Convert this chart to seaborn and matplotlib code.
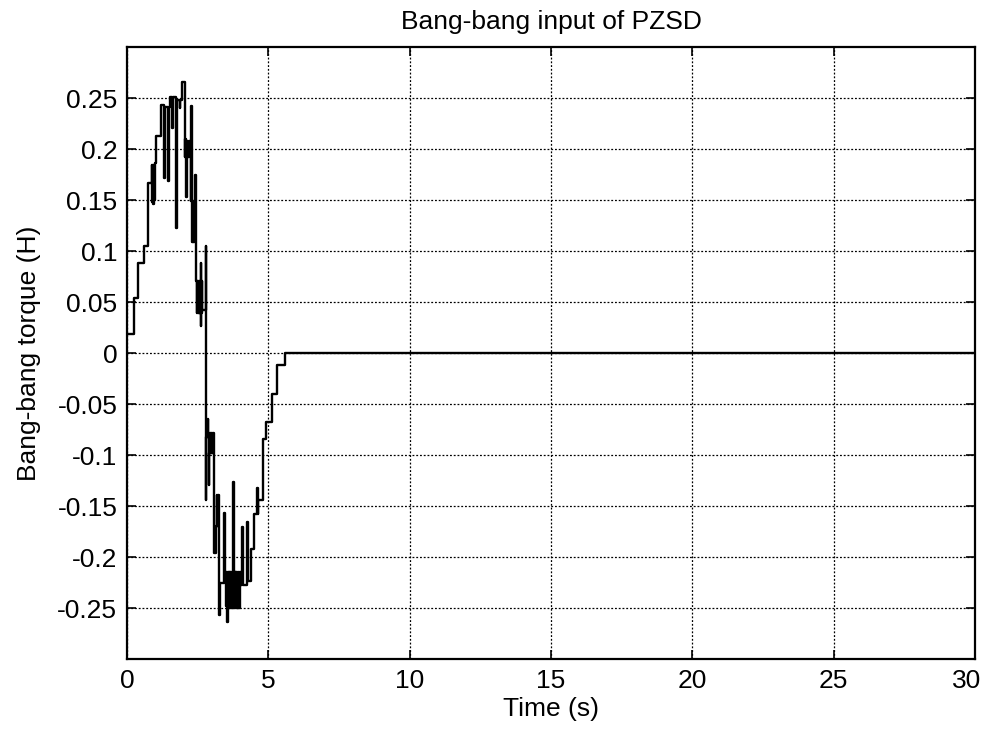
import numpy as np
import pandas as pd
import matplotlib
matplotlib.use("Agg")
import matplotlib.pyplot as plt
import matplotlib.transforms as mtransforms
import seaborn as sns

# Switching instants (s) and held torque levels of the bang-bang input,
# split into the phases of the manoeuvre.
rise_t = [0.00, 0.24, 0.39, 0.61, 0.73, 0.87, 0.89, 0.91, 0.93, 0.95, 0.97, 0.99, 1.01]
rise_u = [0.019, 0.054, 0.088, 0.105, 0.167, 0.184, 0.148, 0.184, 0.146, 0.184, 0.150, 0.186, 0.213]

peak_t = [1.19, 1.31, 1.33, 1.45, 1.47, 1.51, 1.59, 1.61, 1.74, 1.76, 1.86, 1.88, 1.95,
          2.04, 2.05, 2.06, 2.07, 2.09, 2.11, 2.15, 2.16, 2.17, 2.18, 2.19, 2.20,
          2.25, 2.28, 2.29, 2.31, 2.32, 2.33, 2.34, 2.35, 2.36, 2.37, 2.38, 2.39, 2.40, 2.42, 2.43]
peak_u = [0.243, 0.172, 0.241, 0.169, 0.241, 0.251, 0.221, 0.251, 0.123, 0.248, 0.240, 0.248, 0.266,
          0.210, 0.192, 0.210, 0.192, 0.153, 0.208, 0.192, 0.208, 0.192, 0.208, 0.192, 0.208,
          0.149, 0.242, 0.149, 0.109, 0.149, 0.109, 0.149, 0.109, 0.149, 0.109, 0.149, 0.109, 0.141, 0.175, 0.141]

drop_t = [2.45, 2.47, 2.49, 2.51, 2.53, 2.55, 2.57, 2.59, 2.61, 2.62, 2.63, 2.64, 2.66, 2.78, 2.79]
drop_u = [0.071, 0.039, 0.071, 0.039, 0.071, 0.039, 0.071, 0.039, 0.026, 0.088, 0.039, 0.071, 0.042, 0.105, -0.144]

trough_t = [2.80, 2.87, 2.88, 2.89, 2.90, 2.92, 2.94, 2.96, 2.98, 3.00, 3.02, 3.04, 3.06,
            3.08, 3.16, 3.18, 3.20, 3.22, 3.24, 3.26, 3.27, 3.28, 3.44, 3.46,
            3.49, 3.51, 3.53, 3.55, 3.56, 3.58, 3.60, 3.62, 3.64, 3.66, 3.68, 3.70, 3.72, 3.75, 3.77,
            3.79, 3.81, 3.83, 3.85, 3.87, 3.89, 3.91, 3.93, 3.95, 3.97, 3.99, 4.02,
            4.08, 4.10, 4.25, 4.27, 4.39, 4.51, 4.61, 4.62, 4.63]
trough_u = [-0.082, -0.065, -0.082, -0.129, -0.098, -0.078, -0.098, -0.078, -0.098, -0.078, -0.098, -0.078, -0.098,
            -0.196, -0.170, -0.139, -0.170, -0.139, -0.170, -0.139, -0.257, -0.225, -0.157, -0.225,
            -0.215, -0.248, -0.215, -0.264, -0.248, -0.215, -0.250, -0.215, -0.250, -0.215, -0.250, -0.215, -0.250, -0.126, -0.250,
            -0.215, -0.250, -0.215, -0.250, -0.215, -0.250, -0.215, -0.250, -0.215, -0.250, -0.215, -0.227,
            -0.171, -0.227, -0.166, -0.224, -0.192, -0.158, -0.132, -0.158, -0.144]

recover_t = [4.80, 4.92, 5.14, 5.29, 5.58, 30.0]
recover_u = [-0.084, -0.068, -0.040, -0.012, 0.0, 0.0]

x_ticks = [0, 5, 10, 15, 20, 25, 30]
y_ticks = [0.25, 0.2, 0.15, 0.1, 0.05, 0, -0.05, -0.1, -0.15, -0.2, -0.25]
y_tick_labels = ["0.25", "0.2", "0.15", "0.1", "0.05", "0", "-0.05", "-0.1", "-0.15", "-0.2", "-0.25"]

sns.set_style("ticks")
plt.rcParams["font.family"] = ["Liberation Sans", "DejaVu Sans"]
plt.rcParams["font.size"] = 19
plt.rcParams["text.color"] = "black"
plt.rcParams["axes.labelcolor"] = "black"

signal = pd.DataFrame({
    "t": np.concatenate([rise_t, peak_t, drop_t, trough_t, recover_t]),
    "u": np.concatenate([rise_u, peak_u, drop_u, trough_u, recover_u]),
})

fig, ax = plt.subplots(figsize=(9.87, 7.29), dpi=100)
fig.subplots_adjust(left=0.1287, right=0.9878, top=0.9355, bottom=0.096)

sns.lineplot(data=signal, x="t", y="u", estimator=None, sort=False,
             drawstyle="steps-post", color="black", linewidth=1.7, ax=ax)

ax.set_xlim(0, 30)
ax.set_ylim(-0.3, 0.3)
ax.set_xticks(x_ticks)
ax.set_xticklabels([str(v) for v in x_ticks])
ax.set_yticks(y_ticks)
ax.set_yticklabels(y_tick_labels)

ax.grid(True, color="black", linestyle=(0, (1.5, 1.5)), linewidth=0.9)
ax.set_axisbelow(True)
for side in ax.spines.values():
    side.set_visible(True)
    side.set_color("black")
    side.set_linewidth(1.6)
ax.tick_params(direction="in", length=6.5, width=1.2, top=True, right=True,
               labelsize=19, colors="black")
ax.tick_params(axis="y", pad=7)
ax.tick_params(axis="x", pad=7)

# keep the last x tick label inside the figure
last_label = ax.get_xticklabels()[-1]
last_label.set_transform(last_label.get_transform()
                         + mtransforms.ScaledTranslation(-0.08, 0, fig.dpi_scale_trans))

ax.set_title("Bang-bang input of PZSD", fontsize=19, pad=13, color="black")
ax.set_xlabel("Time (s)", fontsize=19, labelpad=3)
ax.set_ylabel("Bang-bang torque (H)", fontsize=19, labelpad=12)

fig.savefig("out.png", dpi=100)
